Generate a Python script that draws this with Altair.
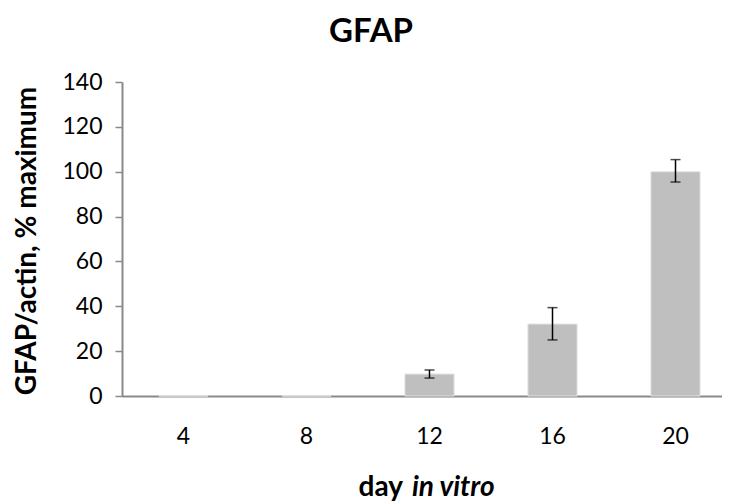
import altair as alt
import pandas as pd

# ---- data ----
days = ["4", "8", "12", "16", "20"]
values = [0, 0, 9.8, 32.1, 100.0]
err_low = [None, None, 8.0, 25.0, 95.4]
err_high = [None, None, 11.6, 39.4, 105.4]
y_ticks = [0, 20, 40, 60, 80, 100, 120, 140]

chart_title = "GFAP"
y_title = "GFAP/actin, % maximum"
x_title_plain = "day"
x_title_italic = "in vitro"

FONT = "Lato"
AXIS_GRAY = "#898989"
BAR_GRAY = "#BFBFBF"

df = pd.DataFrame({"day": days, "value": values, "lo": err_low, "hi": err_high})
df_err = df.dropna()

xscale = alt.Scale(domain=days, paddingInner=0.6, paddingOuter=0.3)
yscale = alt.Scale(domain=[0, 140], nice=False)

bars = alt.Chart(df).mark_bar(color=BAR_GRAY, stroke="#E4E4E4", strokeWidth=1).encode(
    x=alt.X("day:N", sort=days, scale=xscale,
            axis=alt.Axis(title=None, labelAngle=0, ticks=False, labelFont=FONT,
                          labelFontSize=23, labelColor="#000000", labelPadding=29,
                          domainColor=AXIS_GRAY, domainWidth=2)),
    y=alt.Y("value:Q", scale=yscale,
            axis=alt.Axis(title=None, values=y_ticks, grid=False, labelFont=FONT,
                          labelFontSize=23, labelColor="#000000", labelPadding=13,
                          tickSize=7, tickColor=AXIS_GRAY, tickWidth=1.5,
                          domainColor=AXIS_GRAY, domainWidth=2)),
)

rules = alt.Chart(df_err).mark_rule(color="#000000", strokeWidth=1.5).encode(
    x=alt.X("day:N", sort=days, scale=xscale),
    y=alt.Y("lo:Q", scale=yscale),
    y2="hi:Q",
)
caps_lo = alt.Chart(df_err).mark_tick(color="#000000", thickness=1.5, size=10).encode(
    x=alt.X("day:N", sort=days, scale=xscale),
    y=alt.Y("lo:Q", scale=yscale),
)
caps_hi = alt.Chart(df_err).mark_tick(color="#000000", thickness=1.5, size=10).encode(
    x=alt.X("day:N", sort=days, scale=xscale),
    y=alt.Y("hi:Q", scale=yscale),
)

def label(text, x, y, **kw):
    return alt.Chart(pd.DataFrame({"t": [text]})).mark_text(font=FONT, color="#000000", **kw).encode(
        text="t:N", x=alt.value(x), y=alt.value(y))

title_txt = label(chart_title, 249, -40, fontSize=33, fontWeight="bold", align="center", baseline="alphabetic")
ytitle_txt = label(y_title, -86, 159, fontSize=28, fontWeight="bold", align="center",
                   baseline="alphabetic", angle=270)
xt1 = label(x_title_plain, 281, 414, fontSize=28, fontWeight="bold", align="right", baseline="alphabetic")
xt2 = label(x_title_italic, 290, 414, fontSize=28, fontWeight="bold", fontStyle="italic",
            align="left", baseline="alphabetic")

chart = alt.layer(bars, rules, caps_lo, caps_hi, title_txt, ytitle_txt, xt1, xt2).properties(
    width=615, height=314,
    autosize=alt.AutoSizeParams(type="none"),
    padding={"left": 114, "top": 74, "right": -15, "bottom": 106},
).configure_view(stroke=None)

chart.save("out.html", embed_options={"renderer": "svg", "actions": False})
